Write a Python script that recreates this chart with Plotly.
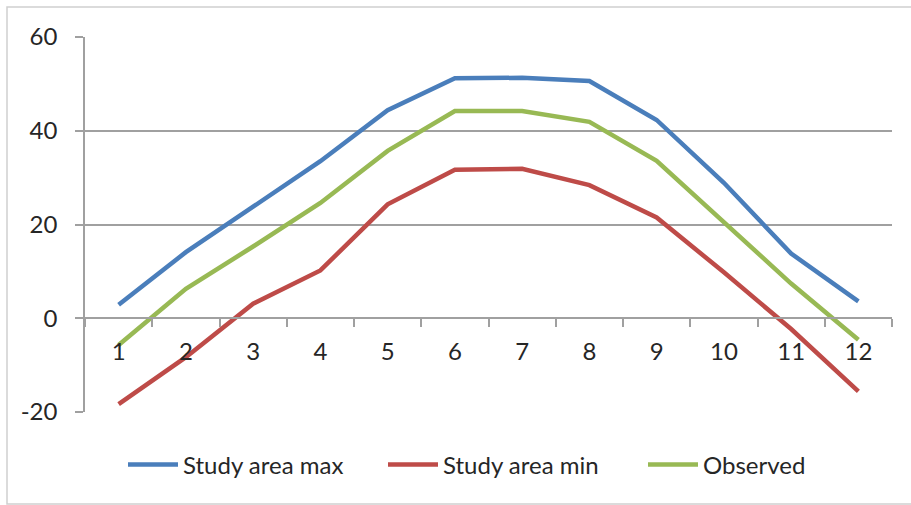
import plotly.graph_objects as go

months = ["1", "2", "3", "4", "5", "6", "7", "8", "9", "10", "11", "12"]
study_max = [2.9, 14.1, 23.8, 33.5, 44.4, 51.2, 51.3, 50.6, 42.3, 28.9, 13.8, 3.6]
study_min = [-18.3, -8.3, 3.1, 10.2, 24.3, 31.7, 31.9, 28.4, 21.5, 9.8, -2.3, -15.6]
observed = [-5.7, 6.3, 15.3, 24.6, 35.7, 44.2, 44.2, 41.9, 33.6, 20.5, 7.4, -4.6]
y_ticks = [-20, 0, 20, 40, 60]
y_labels = ["-20", "0", "20", "40", "60"]

series = [
    ("Study area max", study_max, "#4A7EBB"),
    ("Study area min", study_min, "#BE4B48"),
    ("Observed", observed, "#98B954"),
]

fig = go.Figure()
for name, vals, col in series:
    fig.add_trace(go.Scatter(x=months, y=vals, mode="lines", name=name,
                             line=dict(color=col, width=4.5)))

W, H = 911, 505
ml, mr, mt, mb = 85, 19, 37, 93
pw, ph = W - ml - mr, H - mt - mb

fig.update_layout(
    width=W, height=H,
    margin=dict(l=ml, r=mr, t=mt, b=mb, autoexpand=False),
    paper_bgcolor="white", plot_bgcolor="white",
    font=dict(family="Lato, Open Sans, sans-serif", size=24, color="#262626"),
    showlegend=True,
    legend=dict(orientation="h", x=(123 - ml) / pw, xanchor="left", y=-0.141, yanchor="middle",
                font=dict(size=24), itemwidth=50, entrywidth=195, entrywidthmode="pixels",
                bgcolor="rgba(0,0,0,0)"),
    xaxis=dict(type="category", range=[-0.5, 11.5], anchor="free", position=0.25,
               showline=True, linecolor="#a0a0a0", linewidth=1.5,
               ticks="outside", ticklen=8, tickcolor="#a0a0a0", tickwidth=1.5,
               tickson="boundaries", showgrid=False, ticklabelstandoff=12,
               tickfont=dict(size=24)),
    yaxis=dict(range=[-20, 60], tickvals=y_ticks, ticktext=y_labels, showline=True,
               linecolor="#a0a0a0", linewidth=1.5, ticks="outside", ticklen=8,
               tickcolor="#a0a0a0", tickwidth=1.5,
               showgrid=True, gridcolor="#a0a0a0", gridwidth=1.5, zeroline=False,
               ticklabelstandoff=13, tickfont=dict(size=24)),
)

# outer chart border
fig.add_shape(type="rect", xref="paper", yref="paper",
              x0=(7 - ml) / pw, x1=(912 - ml) / pw,
              y0=(mt + ph - 504) / ph, y1=(mt + ph - 7) / ph,
              line=dict(color="#d0d0d0", width=1.5), layer="below")

fig.write_html("out.html")
